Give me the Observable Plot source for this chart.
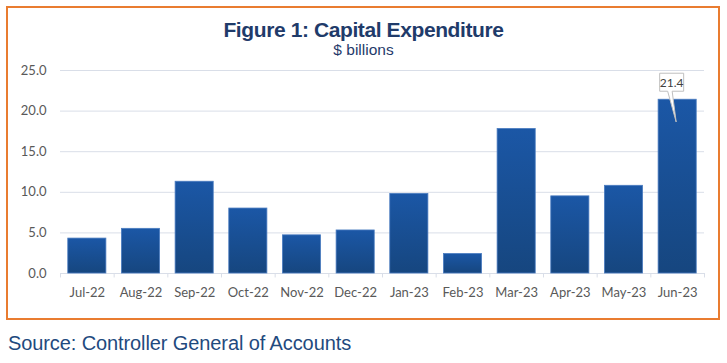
<!DOCTYPE html>
<html>
<head>
<meta charset="utf-8">
<script src="https://cdn.jsdelivr.net/npm/d3@7"></script>
<script src="https://cdn.jsdelivr.net/npm/@observablehq/plot@0.6"></script>
<style>
  html, body { margin: 0; padding: 0; background: #fff; }
  #page { position: relative; width: 727px; height: 363px; overflow: hidden; font-family: "Liberation Sans", Arial, sans-serif; }
  #frame { position: absolute; left: 6px; top: 6px; width: 710px; height: 310px; border: 2px solid #e97c30; }
  #title { position: absolute; left: 0; width: 727px; top: 18px; text-align: center; font-weight: bold; font-size: 21px; color: #1f3b6a; letter-spacing: -0.4px; }
  #subtitle { position: absolute; left: 0; width: 727px; top: 41px; text-align: center; font-size: 15.5px; color: #1f3b6a; }
  #chart { position: absolute; left: 0; top: 0; }
  #source { position: absolute; left: 8px; top: 332px; font-size: 20px; color: #1f4a7e; letter-spacing: -0.1px; }
</style>
</head>
<body>
<div id="page">
  <div id="frame"></div>
  <div id="chart"></div>
  <div id="title">Figure 1: Capital Expenditure</div>
  <div id="subtitle">$ billions</div>
  <div id="source">Source: Controller General of Accounts</div>
</div>
<script>
const months = ["Jul-22","Aug-22","Sep-22","Oct-22","Nov-22","Dec-22","Jan-23","Feb-23","Mar-23","Apr-23","May-23","Jun-23"];
const values = [4.3, 5.5, 11.3, 8.0, 4.7, 5.3, 9.8, 2.4, 17.8, 9.5, 10.8, 21.4];
const yTicks = [0, 5, 10, 15, 20, 25];
const calloutMonth = "Jun-23";
const calloutValue = 21.4;

const data = months.map((m, i) => ({month: m, value: values[i]}));
const halfStep = 644 / 12 / 2;

const plot = Plot.plot({
  width: 727,
  height: 320,
  marginTop: 70,
  marginBottom: 47,
  marginLeft: 60,
  marginRight: 23,
  style: {fontFamily: "Lato, 'Open Sans', sans-serif", fontSize: "13px", color: "#595959", background: "transparent"},
  x: {domain: months, paddingInner: 0.29, paddingOuter: 0.145, round: false, label: null, tickSize: 0, tickPadding: 14},
  y: {domain: [0, 25], ticks: yTicks, label: null, tickFormat: d => d.toFixed(1), tickSize: 0, tickPadding: 14},
  marks: [
    Plot.gridY(yTicks.filter(t => t > 0), {stroke: "#d9dee8", strokeOpacity: 1, strokeWidth: 1}),
    Plot.ruleY([0], {stroke: "#d9dee8", strokeWidth: 1}),
    Plot.ruleX(months, {x: d => d, dx: -halfStep, y1: 0, y2: -0.55, stroke: "#d9dee8"}),
    Plot.ruleX([months[months.length - 1]], {x: d => d, dx: halfStep, y1: 0, y2: -0.55, stroke: "#d9dee8"}),
    Plot.barY(data, {x: "month", y: "value", fill: "url(#barGrad)", stroke: "#4a7cc0", strokeWidth: 0.8})
  ]
});

document.getElementById("chart").appendChild(plot);

const svg = d3.select(plot);
const defs = svg.insert("defs", ":first-child");
const grad = defs.append("linearGradient").attr("id", "barGrad").attr("x1", 0).attr("y1", 0).attr("x2", 0).attr("y2", 1);
grad.append("stop").attr("offset", "0%").attr("stop-color", "#1b57a6");
grad.append("stop").attr("offset", "100%").attr("stop-color", "#16467f");

// Callout for the last bar using the plot's scales
const xs = plot.scale("x");
const ys = plot.scale("y");
const cx = xs.apply(calloutMonth) + xs.bandwidth / 2 - 5.5;
const barTop = ys.apply(calloutValue);
const boxW = 24, boxH = 18;
const bx0 = cx - boxW / 2, bx1 = cx + boxW / 2;
const by1 = barTop - 8, by0 = by1 - boxH;
const tipX = cx + 4.5, tipY = ys.apply(calloutValue - 2.8);
const path = `M${bx0},${by0} H${bx1} V${by1} H${cx + 0.5} L${tipX},${tipY} L${cx - 4},${by1} H${bx0} Z`;
svg.append("path").attr("d", path).attr("fill", "#fff").attr("stroke", "#bfbfbf").attr("stroke-width", 1);
svg.append("text").attr("x", cx).attr("y", (by0 + by1) / 2).attr("dy", "0.36em")
  .attr("text-anchor", "middle").attr("fill", "#404040")
  .style("font-family", "Lato, 'Open Sans', sans-serif").style("font-size", "12px")
  .text(calloutValue.toFixed(1));
</script>
</body>
</html>
